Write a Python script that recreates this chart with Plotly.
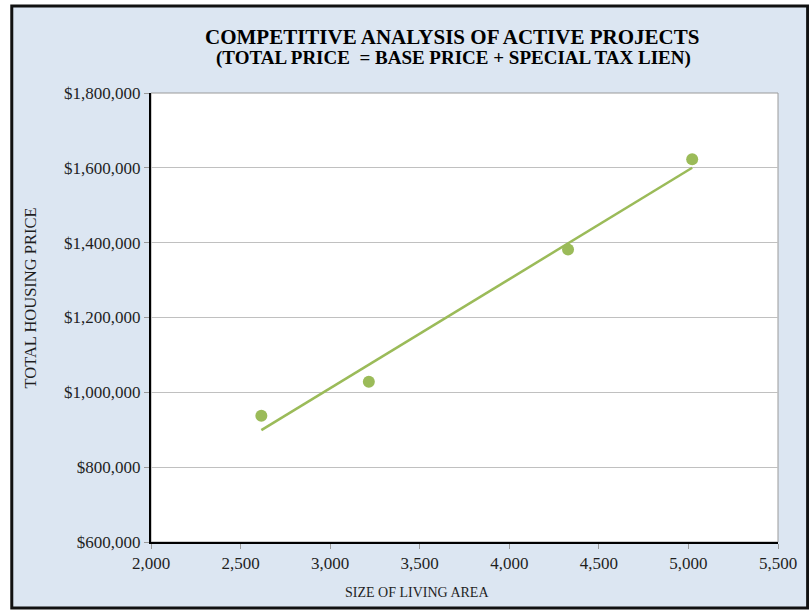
import numpy as np
import plotly.graph_objects as go

# Project data: living area (sq ft) vs total price (base + special tax lien)
living_area = [2616, 3216, 4328, 5021]
total_price = [937500, 1028500, 1382000, 1623000]

x_ticks = [2000, 2500, 3000, 3500, 4000, 4500, 5000, 5500]
y_ticks = [600000, 800000, 1000000, 1200000, 1400000, 1600000, 1800000]

GREEN = "#9bbb59"
PANEL = "#dce6f2"
FONT = "Liberation Serif, Times New Roman, serif"

W, H = 809, 610
L, R, T, B = 151, 23, 93, 68
pw, ph = W - L - R, H - T - B


def px_x(p):
    return (p - L) / pw


def px_y(p):
    return (H - B - p) / ph


# Linear trendline fitted to the points
slope, intercept = np.polyfit(living_area, total_price, 1)
trend_x = [min(living_area), max(living_area)]
trend_y = [slope * v + intercept for v in trend_x]

fig = go.Figure()
fig.add_trace(go.Scatter(x=trend_x, y=trend_y, mode="lines",
                         line=dict(color=GREEN, width=2.5), hoverinfo="skip"))
fig.add_trace(go.Scatter(x=living_area, y=total_price, mode="markers",
                         marker=dict(color=GREEN, size=12)))

fig.update_layout(
    width=W, height=H,
    margin=dict(l=L, r=R, t=T, b=B),
    paper_bgcolor="white", plot_bgcolor="white",
    showlegend=False,
    font=dict(family=FONT, size=17, color="#1f1f1f"),
    shapes=[
        # outer chart panel with dark frame
        dict(type="rect", xref="paper", yref="paper", layer="below",
             x0=px_x(10), x1=px_x(816), y0=px_y(608), y1=px_y(6),
             fillcolor=PANEL, line=dict(color="#111111", width=3)),
        # white plot area with thin grey border
        dict(type="rect", xref="paper", yref="paper", layer="below",
             x0=0, x1=1, y0=0, y1=1,
             fillcolor="white", line=dict(color="#9a9a9a", width=1)),
    ],
    annotations=[
        dict(text="<b>COMPETITIVE ANALYSIS OF ACTIVE PROJECTS</b>",
             xref="paper", yref="paper", x=px_x(456), y=px_y(37.5),
             showarrow=False, font=dict(size=21, color="black", family=FONT),
             xanchor="center", yanchor="middle"),
        dict(text="<b>(TOTAL PRICE \u00a0= BASE PRICE + SPECIAL TAX LIEN)</b>",
             xref="paper", yref="paper", x=px_x(457), y=px_y(58),
             showarrow=False, font=dict(size=19, color="black", family=FONT),
             xanchor="center", yanchor="middle"),
        dict(text="TOTAL HOUSING PRICE", textangle=-90,
             xref="paper", yref="paper", x=px_x(28), y=px_y(298),
             showarrow=False, font=dict(size=16.5, color="#1f1f1f", family=FONT),
             xanchor="center", yanchor="middle"),
        dict(text="SIZE OF LIVING AREA",
             xref="paper", yref="paper", x=px_x(420), y=px_y(592),
             showarrow=False, font=dict(size=14, color="#1f1f1f", family=FONT),
             xanchor="center", yanchor="middle"),
    ],
)

fig.update_xaxes(
    range=[2000, 5500], tickvals=x_ticks, tickformat=",",
    showgrid=False, zeroline=False,
    showline=True, linecolor="black", linewidth=2,
    ticks="outside", ticklen=5, tickcolor="#9a9a9a",
)
fig.update_yaxes(
    range=[600000, 1800000], tickvals=y_ticks, tickformat="$,.0f",
    showgrid=True, gridcolor="#c0c0c0", gridwidth=1, zeroline=False,
    showline=True, linecolor="black", linewidth=2,
    ticks="outside", ticklen=5, tickcolor="#9a9a9a",
)

fig.write_html("out.html")
